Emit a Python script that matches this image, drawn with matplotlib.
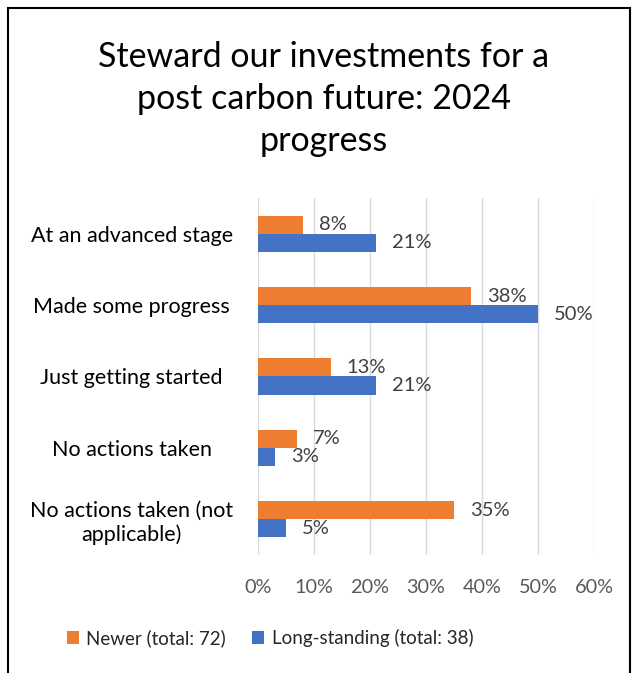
import numpy as np
import matplotlib
matplotlib.use('Agg')
import matplotlib.pyplot as plt
from matplotlib.patches import Rectangle

plt.rcParams['font.family'] = ['Lato', 'DejaVu Sans']

categories = ['At an advanced stage', 'Made some progress', 'Just getting started',
              'No actions taken', 'No actions taken (not\napplicable)']
newer = [8, 38, 13, 7, 35]
long_standing = [21, 50, 21, 3, 5]
series_names = ['Newer (total: 72)', 'Long-standing (total: 38)']
xticks = [0, 10, 20, 30, 40, 50, 60]

ORANGE = '#ED7D31'
BLUE = '#4472C4'

fig = plt.figure(figsize=(6.37, 6.73), dpi=100)
ax = fig.add_axes([258 / 637, 1 - 555 / 673, (594 - 258) / 637, (555 - 198) / 673])

y = np.arange(len(categories))
h = 0.254
bars_n = ax.barh(y - h / 2, newer, height=h, color=ORANGE, label=series_names[0], zorder=3)
bars_l = ax.barh(y + h / 2, long_standing, height=h, color=BLUE, label=series_names[1], zorder=3)

for bars, vals in ((bars_n, newer), (bars_l, long_standing)):
    for b, v in zip(bars, vals):
        ax.annotate(f'{v}%', (b.get_width(), b.get_y() + b.get_height() / 2),
                    xytext=(11.5, 0), textcoords='offset points', va='center', ha='left',
                    fontsize=14.5, color='#404040')

ax.set_xlim(0, 60)
ax.set_ylim(len(categories) - 0.5, -0.5)
ax.set_xticks(xticks)
ax.set_xticklabels([f'{t}%' for t in xticks], fontsize=14.3, color='#595959')
ax.set_yticks(y)
ax.set_yticklabels(categories, fontsize=15.5, color='#000000', ha='center')
ax.tick_params(axis='y', length=0, pad=91)
ax.tick_params(axis='x', length=0, pad=17)
ax.grid(axis='x', color='#D9D9D9', linewidth=1, zorder=0)
for s in ax.spines.values():
    s.set_visible(False)

fig.text(324 / 637, 1 - 99 / 673,
         'Steward our investments for a\npost carbon future: 2024\nprogress',
         ha='center', va='center', fontsize=24.5, linespacing=1.38, color='#000000')

handles, labels = ax.get_legend_handles_labels()
fig.legend(handles, labels, loc='center', bbox_to_anchor=(270 / 637, 1 - 638 / 673),
           ncol=2, frameon=False, fontsize=13.5, handlelength=0.65, handleheight=0.65,
           columnspacing=1.4, handletextpad=0.4, labelcolor='#262626')

fig.patches.append(Rectangle((8 / 637, -0.1), (630 - 8) / 637, 1.1 - 8 / 673,
                             transform=fig.transFigure, fill=False,
                             edgecolor='black', linewidth=1.5))

fig.savefig('out.png', dpi=100)
